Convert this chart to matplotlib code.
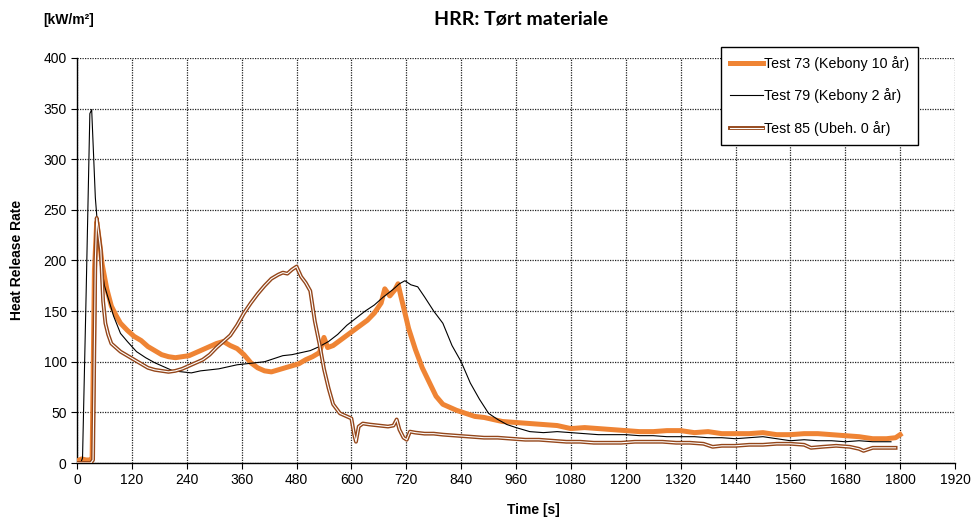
import matplotlib
matplotlib.use('Agg')
import matplotlib.pyplot as plt
import matplotlib.patheffects as pe

plt.rcParams['font.family'] = ['Liberation Sans', 'DejaVu Sans']

# Test 73 (Kebony 10 år)
t73 = [0, 10, 20, 28, 33, 38, 43, 48, 55, 65, 75, 85, 95, 110, 125, 140, 155, 170, 185, 200,
       215, 230, 245, 260, 275, 290, 305, 320, 335, 350, 365, 380, 395, 410, 425, 440, 455, 470,
       485, 500, 515, 530, 540, 548, 560, 575, 590, 605, 620, 635, 650, 665, 673, 684, 695, 702,
       708, 715, 725, 740, 755, 770, 785, 800, 815, 830, 850, 870, 890, 910, 930, 960, 990, 1020,
       1050, 1080, 1110, 1140, 1170, 1200, 1230, 1260, 1290, 1320, 1350, 1380, 1410, 1440, 1470,
       1500, 1530, 1560, 1590, 1620, 1650, 1680, 1710, 1740, 1770, 1790, 1800]
hrr73 = [2, 4, 3, 3, 5, 190, 238, 222, 196, 172, 155, 146, 138, 131, 125, 121, 115, 111, 107, 105,
         104, 105, 106, 109, 112, 115, 118, 120, 116, 113, 107, 99, 94, 91, 90, 92, 94, 96,
         98, 102, 105, 109, 124, 114, 116, 121, 126, 131, 136, 141, 148, 158, 172, 165, 171, 177,
         165, 152, 133, 112, 94, 80, 66, 58, 55, 52, 49, 46, 45, 43, 41, 40, 39, 38,
         37, 34, 35, 34, 33, 32, 31, 31, 32, 32, 30, 31, 29, 29, 29,
         30, 28, 28, 29, 29, 28, 27, 26, 24, 24, 25, 28]

# Test 79 (Kebony 2 år)
t79 = [0, 8, 12, 20, 28, 32, 40, 50, 60, 70, 80, 95, 110, 130, 150, 170, 190, 210, 230, 250,
       270, 290, 310, 330, 350, 370, 390, 410, 430, 450, 470, 490, 510, 530, 550, 570, 590, 610,
       630, 650, 670, 690, 705, 717, 730, 745, 760, 780, 800, 820, 840, 860, 880, 900, 920, 940,
       960, 990, 1020, 1050, 1080, 1110, 1140, 1170, 1200, 1230, 1260, 1290, 1320, 1350, 1380,
       1410, 1440, 1470, 1500, 1530, 1560, 1590, 1620, 1650, 1680, 1710, 1740, 1780]
hrr79 = [0, 0, 5, 170, 345, 349, 262, 205, 175, 160, 145, 128, 120, 110, 104, 99, 95, 91, 90, 89,
         91, 92, 93, 95, 97, 98, 99, 100, 103, 106, 107, 109, 111, 115, 120, 127, 136, 143,
         150, 156, 164, 171, 177, 180, 176, 174, 164, 150, 138, 116, 100, 79, 63, 49, 43, 38,
         35, 31, 30, 31, 30, 29, 28, 28, 28, 27, 27, 26, 26, 26, 25,
         25, 24, 25, 26, 24, 22, 23, 22, 22, 21, 22, 21, 21]

# Test 85 (Ubeh. 0 år)
t85 = [0, 10, 20, 30, 35, 40, 43, 47, 52, 57, 62, 68, 75, 85, 95, 110, 125, 140, 155, 170, 185,
       200, 215, 230, 245, 260, 275, 290, 305, 320, 335, 350, 365, 380, 395, 410, 425, 440, 450,
       460, 470, 480, 490, 500, 510, 520, 530, 540, 550, 560, 575, 590, 600, 606, 610, 616, 625,
       640, 660, 680, 692, 699, 705, 714, 721, 728, 740, 760, 780, 800, 830, 860, 890, 920, 950,
       980, 1010, 1040, 1070, 1100, 1130, 1160, 1190, 1220, 1250, 1280, 1310, 1340, 1370, 1390,
       1410, 1440, 1470, 1500, 1530, 1560, 1590, 1605, 1630, 1660, 1690, 1710, 1720, 1740, 1760,
       1790]
hrr85 = [0, 0, 0, 0, 3, 200, 242, 228, 210, 160, 138, 127, 118, 114, 110, 106, 102, 98, 94, 92, 91,
         90, 91, 93, 96, 99, 102, 107, 114, 120, 126, 136, 148, 158, 167, 175, 182, 186, 188,
         187, 191, 194, 184, 178, 170, 140, 118, 93, 74, 58, 49, 46, 44, 28, 21, 36, 39,
         38, 37, 36, 37, 43, 33, 25, 23, 31, 30, 29, 29, 28, 27, 26, 25, 25, 24,
         23, 23, 22, 21, 21, 20, 20, 20, 21, 21, 21, 20, 20, 19, 16,
         17, 17, 18, 18, 19, 19, 18, 15, 16, 17, 16, 14, 12, 15, 15,
         15]

x_ticks = list(range(0, 1921, 120))
y_ticks = list(range(0, 401, 50))

orange = '#EF8434'
brown = '#94461A'

fig = plt.figure(figsize=(9.79, 5.22), dpi=100)
ax = fig.add_axes([0.0787, 0.113, 0.8968, 0.776])

ax.plot(t73, hrr73, color=orange, lw=3.6, solid_joinstyle='round',
        label='Test 73 (Kebony 10 år)', zorder=3)
ax.plot(t79, hrr79, color='black', lw=0.8, label='Test 79 (Kebony 2 år)', zorder=4)
ax.plot(t85, hrr85, color='white', lw=0.8, label='Test 85 (Ubeh. 0 år)', zorder=5,
        path_effects=[pe.Stroke(linewidth=2.8, foreground=brown), pe.Normal()])

ax.set_xlim(0, 1920)
ax.set_ylim(0, 400)
ax.set_xticks(x_ticks)
ax.set_yticks(y_ticks)
ax.tick_params(labelsize=10, direction='out', length=4, width=0.8)
ax.grid(True, color='#222222', linestyle=(0, (1, 1)), linewidth=0.9)
ax.set_axisbelow(True)
for side in ['top', 'right']:
    ax.spines[side].set_visible(False)
for side in ['left', 'bottom']:
    ax.spines[side].set_linewidth(1.0)

leg = ax.legend(loc='upper right', bbox_to_anchor=(918 / 979, 1 - 47 / 522),
                bbox_transform=fig.transFigure, borderaxespad=0, fontsize=10.3,
                fancybox=False, framealpha=1, edgecolor='black', handlelength=2.3,
                handletextpad=0.1, labelspacing=1.25, borderpad=0.6)
leg.get_frame().set_linewidth(1.0)

fig.text(0.532, 0.9635, 'HRR: Tørt materiale', ha='center', va='center', fontsize=14,
         fontweight='bold', family=['Lato', 'DejaVu Sans'])
fig.text(43 / 979, 0.962, '[kW/m²]', ha='left', va='center', fontsize=10, fontweight='bold')
fig.text(17 / 979, 1 - 260 / 522, 'Heat Release Rate', ha='center', va='center',
         rotation=90, fontsize=10, fontweight='bold')
fig.text(533 / 979, 1 - 510 / 522, 'Time [s]', ha='center', va='center', fontsize=10,
         fontweight='bold')

fig.savefig('out.png', dpi=100)
